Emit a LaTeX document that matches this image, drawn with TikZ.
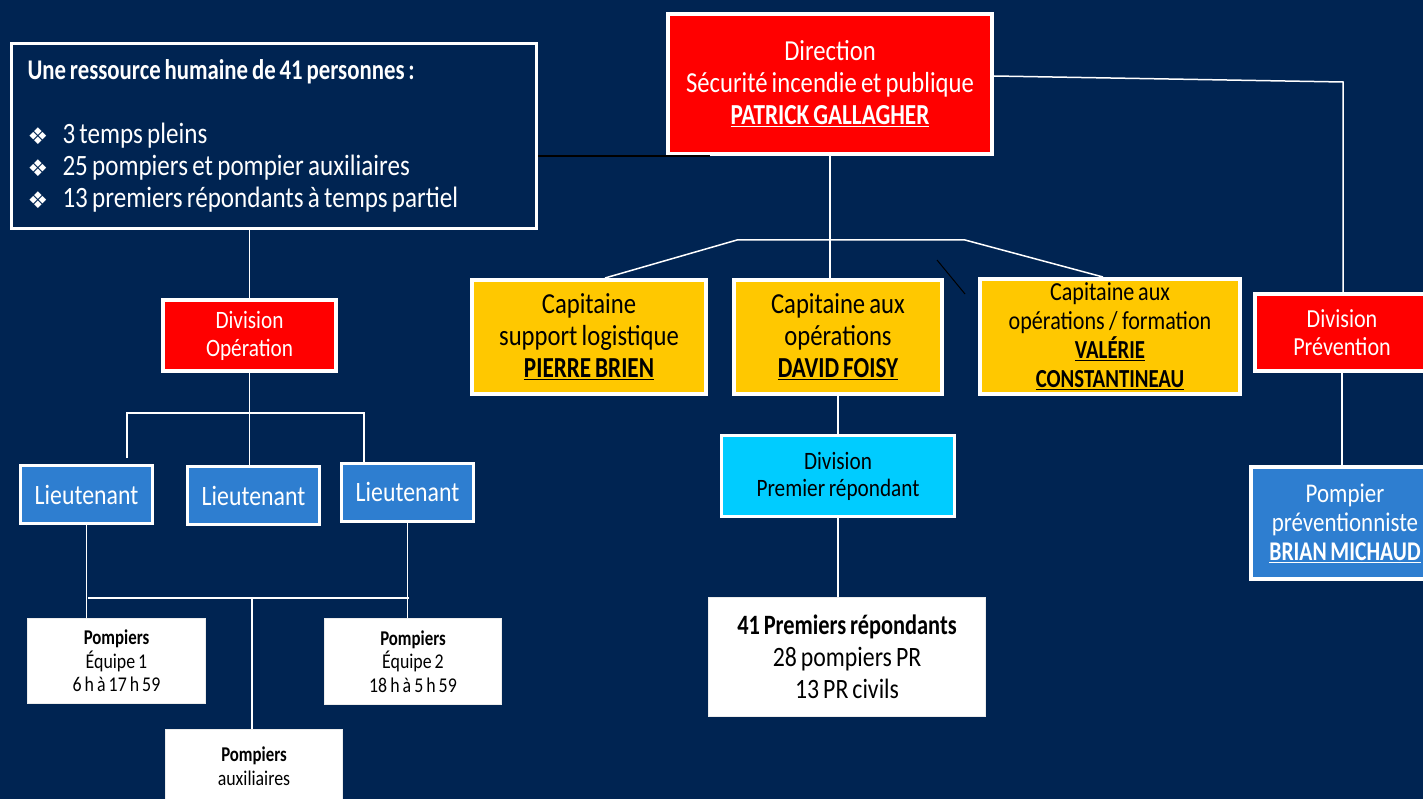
\documentclass[tikz,border=0pt]{standalone}
\usepackage{fontspec}
\setmainfont{Carlito}[FakeStretch=0.85, WordSpace=0.75, BoldFeatures={FakeStretch=0.8}]
\newfontfamily\symfont{DejaVu Sans}
\usepackage{tikz}
\usetikzlibrary{calc}
\definecolor{navybg}{RGB}{0,36,82}
\definecolor{firered}{RGB}{255,0,0}
\definecolor{capyellow}{RGB}{255,200,0}
\definecolor{prcyan}{RGB}{0,204,255}
\definecolor{ltblue}{RGB}{46,126,208}
\newcommand{\fsz}[2]{\fontsize{#1}{#2}\selectfont}
\newcommand{\infobullet}{\makebox[35pt][l]{\symfont\fsz{23}{32}\raisebox{-1pt}{❖}}}
\tikzset{
  orgbox/.style={draw=white, line width=4pt, align=center, inner sep=1pt},
  redbox/.style={orgbox, fill=firered, text=white},
  capbox/.style={orgbox, fill=capyellow, text=black},
  bluebox/.style={orgbox, fill=ltblue, text=white, line width=3pt},
  cyanbox/.style={orgbox, fill=prcyan, text=black, line width=3pt},
  whitebox/.style={orgbox, fill=white, text=black, draw=white!85!gray, line width=1pt},
  link/.style={draw=white, line width=1.5pt},
  darklink/.style={draw=black, line width=1.5pt}
}

\begin{document}
\begin{tikzpicture}[x=1pt, y=-1pt]
  \useasboundingbox (0,0) rectangle (1423,799);
  \fill[navybg] (0,0) rectangle (1423,799);
  \clip (0,0) rectangle (1423,799);

  % top
  \node[redbox, minimum width=324pt, minimum height=140pt, font=\fsz{29}{32}] (direction) at (830,84)
    {Direction\\Sécurité incendie et publique\\\underline{\textbf{PATRICK GALLAGHER}}};
  \node[orgbox, line width=3pt, fill=navybg, text=white, align=left, text width=493pt,
        inner sep=16pt, minimum height=173pt, font=\fsz{29.5}{32}] (info) at (274,136)
    {\spaceskip=0pt\xspaceskip=0pt
     {\bfseries\fsz{28.5}{32}Une ressource humaine de 41 personnes :}\\[32pt]
     \infobullet 3 temps pleins\\
     \infobullet 25 pompiers et pompier auxiliaires\\
     \infobullet 13 premiers répondants à temps partiel};

  % capitaines
  \node[capbox, minimum width=234pt, minimum height=114pt, font=\fsz{29}{32}] (caplog) at (589,337)
    {Capitaine\\support logistique\\\underline{\textbf{PIERRE BRIEN}}};
  \node[capbox, minimum width=208pt, minimum height=114pt, font=\fsz{29}{32}] (capops) at (838,337)
    {Capitaine aux\\opérations\\\underline{\textbf{DAVID FOISY}}};
  \node[capbox, minimum width=260pt, minimum height=115pt, font=\fsz{26}{29}] (capform) at (1110,336.5)
    {Capitaine aux\\opérations\,/\,formation\\\underline{\textbf{VALÉRIE}}\\\underline{\textbf{CONSTANTINEAU}}};

  % prevention
  \node[redbox, minimum width=174pt, minimum height=77pt, font=\fsz{26}{28}] (divprev) at (1342,332.5)
    {Division\\Prévention};
  \node[bluebox, line width=4pt, minimum width=188pt, minimum height=112pt, font=\fsz{27}{29}] (pompprev) at (1345,523)
    {Pompier\\préventionniste\\\underline{\textbf{BRIAN MICHAUD}}};

  % premiers repondants
  \node[cyanbox, minimum width=233pt, minimum height=81pt, font=\fsz{25}{27}] (divpr) at (838,476)
    {Division\\Premier répondant};
  \node[whitebox, minimum width=277pt, minimum height=119pt, font=\fsz{28}{32}] (premrep) at (847,657)
    {\textbf{41 Premiers répondants}\\28 pompiers PR\\13 PR civils};

  % operation
  \node[redbox, minimum width=173pt, minimum height=71pt, font=\fsz{25}{28}] (divop) at (249.5,335.5)
    {Division\\Opération};
  \node[bluebox, minimum width=132pt, minimum height=58pt, font=\fsz{28}{30}] (lieut1) at (86.5,494.5) {Lieutenant};
  \node[bluebox, minimum width=132pt, minimum height=58pt, font=\fsz{28}{30}] (lieut2) at (253.5,495.5) {Lieutenant};
  \node[bluebox, minimum width=132pt, minimum height=58pt, font=\fsz{28}{30}] (lieut3) at (407.5,492) {Lieutenant};
  \node[whitebox, minimum width=178pt, minimum height=85pt, font=\fsz{21}{23.5}] (pomp1) at (116.5,661)
    {\textbf{Pompiers}\\Équipe 1\\6 h à 17 h 59};
  \node[whitebox, minimum width=177pt, minimum height=86pt, font=\fsz{21}{23.5}] (pomp2) at (413,661.5)
    {\textbf{Pompiers}\\Équipe 2\\18 h à 5 h 59};
  \node[whitebox, minimum width=177pt, minimum height=73pt, font=\fsz{21}{23.5}] (pompaux) at (254,766)
    {\textbf{Pompiers}\\auxiliaires};

  % junctions
  \coordinate (prevturn) at (1343,82);
  \coordinate (capL) at (737,240);
  \coordinate (capR) at (965,240);
  \coordinate (strayA) at (937,260);
  \coordinate (strayB) at (965,294);
  \coordinate (opL) at (127,413);
  \coordinate (opR) at (364,413);
  \coordinate (teamL) at (88,598);
  \coordinate (teamR) at (409,598);
  \coordinate (teamM) at (252,598);

  % connectors
  \draw[darklink] (info.east |- direction.south) -- ($(direction.south west)+(44,0)$);
  \draw[link] ($(direction.east)+(0,-8)$) -- (prevturn) -- (prevturn |- divprev.north);
  \draw[link] (direction.south) -- (direction.south |- capops.north);
  \draw[link] ($(caplog.north)+(16,0)$) -- (capL) -- (capR) -- ($(capform.north)+(-7,0)$);
  \draw[darklink, line width=1pt] (strayA) -- (strayB);
  \draw[link] (capops.south) -- (capops.south |- divpr.north);
  \draw[link] (divpr.south) -- (divpr.south |- premrep.north);
  \draw[link] (divprev.south) -- (divprev.south |- pompprev.north);
  \draw[link] (divop.north |- info.south) -- (divop.north);
  \draw[link] (divop.south) -- (divop.south |- lieut2.north);
  \draw[link] ($(opL |- lieut1.north)+(0,-6)$) -- (opL) -- (opR) -- (opR |- lieut3.north);
  \draw[link] (lieut1.south) -- (lieut1.south |- pomp1.north);
  \draw[link] (lieut3.south) -- (lieut3.south |- pomp2.north);
  \draw[link] (teamL) -- (teamR);
  \draw[link] (teamM) -- (teamM |- pompaux.north);
\end{tikzpicture}
\end{document}
